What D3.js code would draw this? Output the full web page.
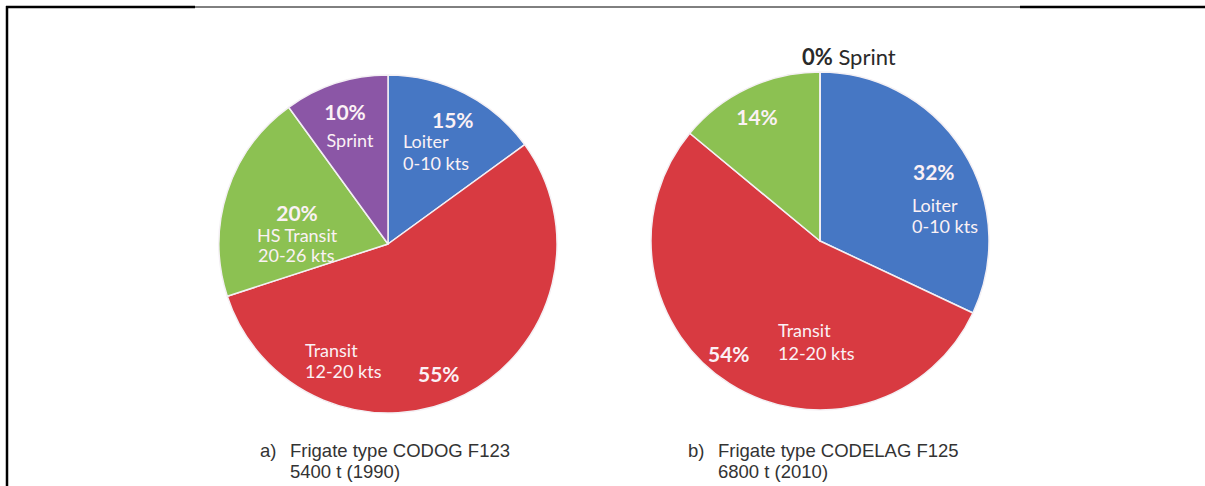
<!DOCTYPE html>
<html>
<head>
<meta charset="utf-8">
<script src="https://cdn.jsdelivr.net/npm/d3@7"></script>
<style>
  body { margin: 0; background: #fff; }
  svg { display: block; }
</style>
</head>
<body>
<div id="chart"></div>
<script>
// data
const categories = ["Loiter", "Transit", "HS Transit", "Sprint"];
const speedRanges = ["0-10 kts", "12-20 kts", "20-26 kts", ""];
const f123Values = [15, 55, 20, 10];
const f125Values = [32, 54, 14, 0];
const captionsA = ["a)", "Frigate type CODOG F123", "5400 t (1990)"];
const captionsB = ["b)", "Frigate type CODELAG F125", "6800 t (2010)"];

const width = 1205, height = 486;
const colors = ["#4677c4", "#d83a41", "#8cc152", "#8b56a6"];
const labelFont = "Lato, 'Open Sans', sans-serif";

const svg = d3.select('#chart').append('svg')
  .attr('width', width)
  .attr('height', height);

// frame lines
svg.append('line').attr('x1', 7).attr('x2', 7).attr('y1', 6).attr('y2', height)
  .attr('stroke', '#000').attr('stroke-width', 2.5);
svg.append('line').attr('x1', 6).attr('x2', 195).attr('y1', 7).attr('y2', 7)
  .attr('stroke', '#000').attr('stroke-width', 2.5);
svg.append('line').attr('x1', 195).attr('x2', 1020).attr('y1', 7).attr('y2', 7)
  .attr('stroke', '#000').attr('stroke-width', 1);
svg.append('line').attr('x1', 1020).attr('x2', width).attr('y1', 7).attr('y2', 7)
  .attr('stroke', '#000').attr('stroke-width', 2.5);

const pie = d3.pie().sort(null).value(d => d);
const arc = d3.arc().innerRadius(0).outerRadius(169);

// label placement, offsets from each pie centre (one entry per category)
const layoutA = [
  { pct: [44, -116, 'start'], name: [15, -96, 'start'], range: [15, -74] },
  { pct: [30, 138, 'start'], name: [-83, 113, 'start'], range: [-83, 134] },
  { pct: [-91, -23, 'middle'], name: [-131, -2, 'start'], range: [-130, 18] },
  { pct: [-43, -124, 'middle'], name: [-38, -97, 'middle'], range: null }
];
const layoutB = [
  { pct: [93, -61, 'start'], name: [92, -29, 'start'], range: [92, -8] },
  { pct: [-112, 121, 'start'], name: [-42, 96, 'start'], range: [-42, 119] },
  { pct: [-63, -116, 'middle'], name: null, range: null },
  { pct: null, name: null, range: null, outside: [-18, -176] }
];

function drawPie(values, cx, cy, layout, captions, capX) {
  const g = svg.append('g').attr('transform', `translate(${cx},${cy})`);

  g.selectAll('path')
    .data(pie(values))
    .join('path')
    .attr('d', arc)
    .attr('fill', (d, i) => colors[i])
    .attr('stroke', '#f4f0f4')
    .attr('stroke-width', 1.5)
    .attr('stroke-linejoin', 'round');

  layout.forEach((l, i) => {
    if (l.pct) {
      g.append('text')
        .attr('x', l.pct[0]).attr('y', l.pct[1])
        .attr('text-anchor', l.pct[2])
        .attr('font-family', labelFont)
        .attr('font-weight', 'bold')
        .attr('font-size', 21)
        .attr('fill', '#fbf1f5')
        .text(values[i] + '%');
    }
    if (l.name) {
      g.append('text')
        .attr('x', l.name[0]).attr('y', l.name[1])
        .attr('text-anchor', l.name[2])
        .attr('font-family', labelFont)
        .attr('font-size', 18)
        .attr('fill', '#fbf1f5')
        .text(categories[i]);
    }
    if (l.range) {
      g.append('text')
        .attr('x', l.range[0]).attr('y', l.range[1])
        .attr('font-family', labelFont)
        .attr('font-size', 18)
        .attr('fill', '#fbf1f5')
        .text(speedRanges[i]);
    }
    if (l.outside) {
      const t = g.append('text')
        .attr('x', l.outside[0]).attr('y', l.outside[1])
        .attr('font-family', labelFont)
        .attr('font-size', 22)
        .attr('fill', '#2a2a2a');
      t.append('tspan').attr('font-weight', 'bold').text(values[i] + '%');
      t.append('tspan').text(' ' + categories[i]);
    }
  });

  // caption under the pie
  const cap = svg.append('g')
    .attr('font-family', "'Liberation Sans', Arial, sans-serif")
    .attr('font-size', 18.5)
    .attr('fill', '#333');
  cap.append('text').attr('x', capX).attr('y', 457).text(captions[0]);
  cap.append('text').attr('x', capX + 30).attr('y', 457).text(captions[1]);
  cap.append('text').attr('x', capX + 30).attr('y', 478).text(captions[2]);
}

drawPie(f123Values, 388, 244, layoutA, captionsA, 260);
drawPie(f125Values, 820, 241, layoutB, captionsB, 688);
</script>
</body>
</html>
